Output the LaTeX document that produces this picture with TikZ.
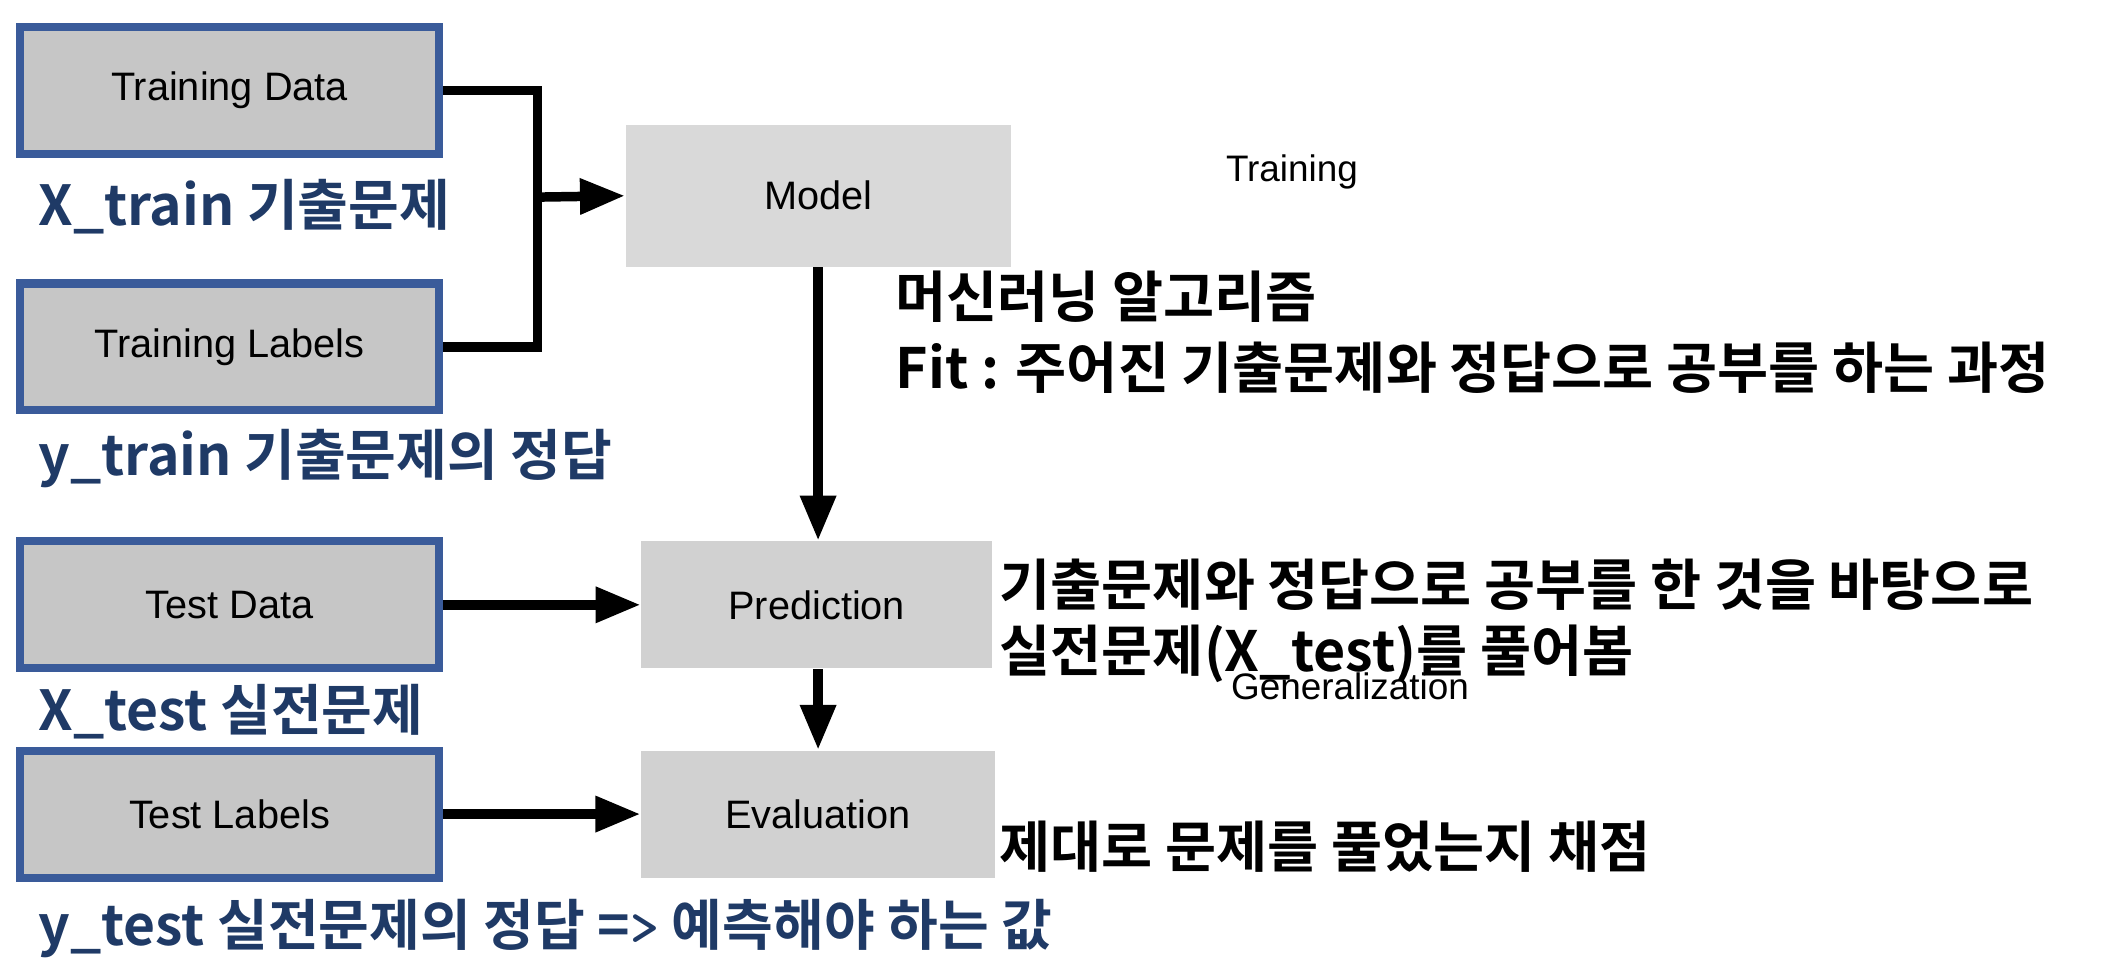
\documentclass[tikz,border=0pt]{standalone}
\usepackage{fontspec}
\setmainfont{Liberation Sans}
\newfontfamily\kr{Noto Sans CJK KR}[BoldFont=* Bold]
\usetikzlibrary{arrows.meta}
\definecolor{bluebd}{HTML}{3A5B9A}
\definecolor{navy}{HTML}{1F3A66}
\definecolor{boxg}{HTML}{C6C6C6}
\definecolor{lg}{HTML}{D9D9D9}
\begin{document}
\begin{tikzpicture}[x=0.0135cm,y=-0.0135cm,
  inbox/.style={draw=bluebd,fill=boxg,line width=2.3pt,minimum width=4.19cm,minimum height=1.27cm,font=\fontsize{11.3}{13}\selectfont,inner sep=0},
  proc/.style={fill=lg,minimum height=1.27cm,font=\fontsize{11.3}{13}\selectfont,inner sep=0},
  blab/.style={anchor=west,inner sep=0,text=navy,font=\kr\bfseries\fontsize{15.7}{17}\selectfont},
  klab/.style={anchor=west,inner sep=0,text=black,font=\kr\bfseries\fontsize{15.8}{17}\selectfont},
  small/.style={inner sep=0,font=\fontsize{10.5}{12}\selectfont},
  conn/.style={line width=2.7pt},
  arr/.style={line width=2.7pt,-{Triangle[length=0.45cm,width=0.34cm]}}]
\useasboundingbox (0,0) rectangle (1560,721.5);
\node[inbox] (td) at (170,67) {Training Data};
\node[inbox] (tl) at (170,257) {Training Labels};
\node[inbox] (sd) at (170,448) {Test Data};
\node[inbox] (sl) at (170,603) {Test Labels};
\node[blab] (t1) at (28,153) {X\_train 기출문제};
\node[blab] (t2) at (28,340) {y\_train 기출문제의 정답};
\node[blab] (t3) at (28,527) {X\_test 실전문제};
\node[blab] (t4) at (28,688) {y\_test 실전문제의 정답 =\texttt{>} 예측해야 하는 값};
\node[proc,minimum width=3.85cm,minimum height=1.42cm] (model) at (606,145) {Model};
\node[proc,fill=boxg!80!white,minimum width=3.51cm] (pred) at (605,448) {Prediction};
\node[proc,fill=boxg!80!white,minimum width=3.54cm] (eval) at (606,603) {Evaluation};
\node[small] (tr) at (957,127) {Training};
\node[small] (gen) at (1000,508) {Generalization};
\node[klab] (k1) at (663,220) {머신러닝 알고리즘};
\node[klab] (k2) at (663,272) {Fit : 주어진 기출문제와 정답으로 공부를 하는 과정};
\node[klab] (k3) at (740,433) {기출문제와 정답으로 공부를 한 것을 바탕으로};
\node[klab] (k4) at (740,484) {실전문제(X\_test)를 풀어봄};
\node[klab] (k5) at (740,627) {제대로 문제를 풀었는지 채점};
\coordinate (j) at (398,146);
\draw[conn,line join=miter] (td.east) -| (j) |- (tl.east);
\draw[arr] (j) -- (model.west);
\draw[arr] (model.south) -- (model.south|-pred.north);
\draw[arr] (model.south|-pred.south) -- (model.south|-eval.north);
\draw[arr] (sd.east) -- (pred.west);
\draw[arr] (sl.east) -- (eval.west);
\end{tikzpicture}
\end{document}
